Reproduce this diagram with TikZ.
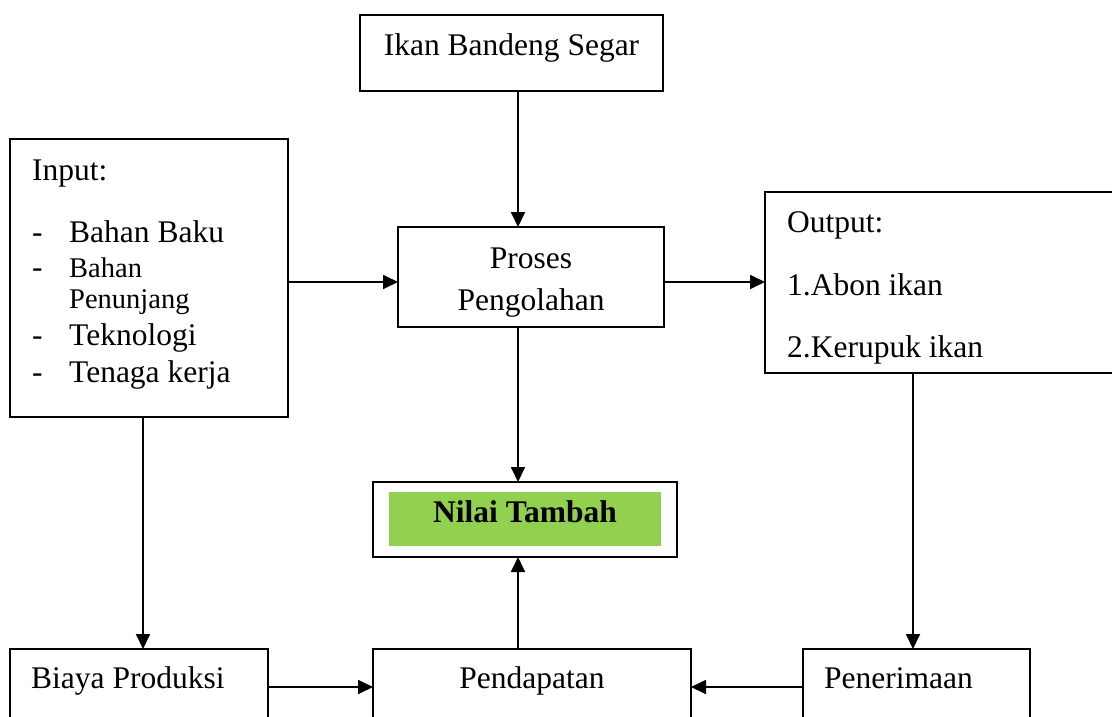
\documentclass[tikz,border=0pt]{standalone}
\usepackage{fontspec}
\setmainfont{Liberation Serif}
\usetikzlibrary{arrows.meta}
\definecolor{nilaigreen}{HTML}{92D050}
\begin{document}
\begin{tikzpicture}[x=1pt,y=-1pt,
  box/.style={draw, line width=1.8pt, rectangle, inner sep=0pt, outer sep=0pt},
  arr/.style={line width=1.8pt, -{Triangle[length=15pt,width=14pt]}},
  txt/.style={inner sep=0pt, font=\fontsize{31.5}{36}\selectfont},
  smalltxt/.style={inner sep=0pt, font=\fontsize{28.5}{33}\selectfont},
  boldtxt/.style={inner sep=0pt, font=\fontsize{31.5}{36}\selectfont\bfseries}]
\useasboundingbox (0,0) rectangle (1112,716);
\clip (0,0) rectangle (1112,716);
\coordinate (axis) at (518,0);
% boxes
\node[box, minimum width=303pt, minimum height=76pt] (ikan) at (511.5,53) {};
\node[box, minimum width=278pt, minimum height=278pt] (input) at (149,278) {};
\node[box, minimum width=266pt, minimum height=100pt] (proses) at (531,277) {};
\node[box, minimum width=348pt, minimum height=181pt] (output) at (939,282.5) {};
\node[box, minimum width=304pt, minimum height=75pt] (nilai) at (525,519.5) {};
\fill[nilaigreen] (389,492) rectangle (661,546);
\node[box, minimum width=258pt, minimum height=120pt] (biaya) at (139,709) {};
\node[box, minimum width=318pt, minimum height=120pt] (pendapatan) at (532,709) {};
\node[box, minimum width=227pt, minimum height=120pt] (penerimaan) at (916.5,709) {};
% texts
\node[txt, anchor=base] (tikan) at (511.5,55) {Ikan Bandeng Segar};
\node[txt, anchor=base west] (tin) at (32,180) {Input:};
\node[txt, anchor=base west] (d1) at (32,242) {-};
\node[txt, anchor=base west] (t1) at (69,242) {Bahan Baku};
\node[txt, anchor=base west] (d2) at (32,277) {-};
\node[smalltxt, anchor=base west] (t2) at (69,277) {Bahan};
\node[smalltxt, anchor=base west] (t2b) at (69,308) {Penunjang};
\node[txt, anchor=base west] (d3) at (32,345) {-};
\node[txt, anchor=base west] (t3) at (69,345) {Teknologi};
\node[txt, anchor=base west] (d4) at (32,382) {-};
\node[txt, anchor=base west] (t4) at (69,382) {Tenaga kerja};
\node[txt, anchor=base] (tp1) at (531,268) {Proses};
\node[txt, anchor=base] (tp2) at (531,310) {Pengolahan};
\node[txt, anchor=base west] (tout) at (787,232) {Output:};
\node[txt, anchor=base west] (to1) at (787,295) {1.Abon ikan};
\node[txt, anchor=base west] (to2) at (787,357) {2.Kerupuk ikan};
\node[boldtxt, anchor=base] (tnilai) at (525,522) {Nilai Tambah};
\node[txt, anchor=base west] (tbiaya) at (31,688) {Biaya Produksi};
\node[txt, anchor=base] (tpend) at (532,688) {Pendapatan};
\node[txt, anchor=base west] (tpen) at (824,688) {Penerimaan};
% connectors
\coordinate (yarr) at (0,282);
\coordinate (ybot) at (0,687);
\draw[arr] (ikan.south -| axis) -- (proses.north -| axis);
\draw[arr] (input.east |- yarr) -- (proses.west |- yarr);
\draw[arr] (proses.east |- yarr) -- (output.west |- yarr);
\draw[arr] (proses.south -| axis) -- (nilai.north -| axis);
\draw[arr] (pendapatan.north -| axis) -- (nilai.south -| axis);
\coordinate (xin) at (143,0);
\draw[arr] (input.south -| xin) -- (biaya.north -| xin);
\coordinate (xout) at (913,0);
\draw[arr] (output.south -| xout) -- (penerimaan.north -| xout);
\draw[arr] (biaya.east |- ybot) -- (pendapatan.west |- ybot);
\draw[arr] (penerimaan.west |- ybot) -- (pendapatan.east |- ybot);
\end{tikzpicture}
\end{document}
